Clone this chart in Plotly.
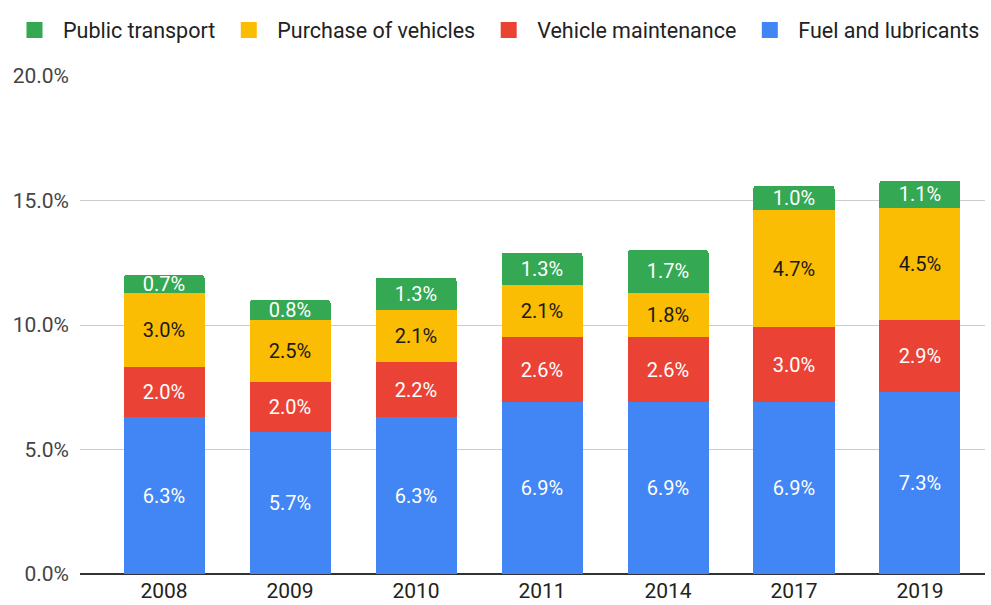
import plotly.graph_objects as go

years = ["2008", "2009", "2010", "2011", "2014", "2017", "2019"]
fuel = [6.3, 5.7, 6.3, 6.9, 6.9, 6.9, 7.3]
maintenance = [2.0, 2.0, 2.2, 2.6, 2.6, 3.0, 2.9]
purchase = [3.0, 2.5, 2.1, 2.1, 1.8, 4.7, 4.5]
public = [0.7, 0.8, 1.3, 1.3, 1.7, 1.0, 1.1]

series = [
    ("Fuel and lubricants", fuel, "#4285F4", "white"),
    ("Vehicle maintenance", maintenance, "#EA4335", "white"),
    ("Purchase of vehicles", purchase, "#FBBC04", "#1a1a1a"),
    ("Public transport", public, "#34A853", "white"),
]

FONT = "Roboto"
fig = go.Figure()
for name, vals, color, tcol in series:
    fig.add_trace(go.Bar(
        x=years, y=[v / 100 for v in vals], name=name,
        legendgroup=name, showlegend=False,
        marker=dict(color=color, line=dict(width=0)),
        text=[f"{v:.1f}%" for v in vals],
        textposition="inside", insidetextanchor="middle", textangle=0,
        textfont=dict(color=tcol, size=20, family=FONT),
        hoverinfo="skip",
    ))
# legend entries with larger square swatches
for name, vals, color, tcol in series:
    fig.add_trace(go.Scatter(
        x=[None], y=[None], mode="markers", name=name, legendgroup=name,
        marker=dict(symbol="square", size=16, color=color),
        showlegend=True, hoverinfo="skip",
    ))

fig.update_layout(
    barmode="stack",
    bargap=0.357,
    barcornerradius=3,
    width=991, height=605,
    margin=dict(l=80, r=6, t=76, b=31, autoexpand=False),
    paper_bgcolor="white", plot_bgcolor="white",
    font=dict(family=FONT, size=21, color="#444444"),
    uniformtext=dict(minsize=20, mode="show"),
    showlegend=True,
    legend=dict(
        orientation="h", traceorder="reversed",
        xref="paper", yref="paper",
        x=(6 - 80) / 905, y=1 + 46 / 498, xanchor="left", yanchor="middle",
        font=dict(size=21.5, color="#222222", family=FONT),
        itemwidth=47,
    ),
    xaxis=dict(
        type="category", range=[-0.667, 6.516],
        showgrid=False, ticks="", showline=False,
        ticklabelstandoff=2,
        tickfont=dict(size=21, color="#222222"),
    ),
    yaxis=dict(
        range=[0, 0.2], dtick=0.05, tickformat=".1%",
        showgrid=True, gridcolor="#cccccc", gridwidth=1,
        zeroline=True, zerolinecolor="#333333", zerolinewidth=1.5,
        ticks="", ticklabelstandoff=10,
        tickfont=dict(size=21, color="#444444"),
    ),
)

fig.write_html("out.html", config={"displayModeBar": False},
               post_script="document.body.style.margin='0';")
